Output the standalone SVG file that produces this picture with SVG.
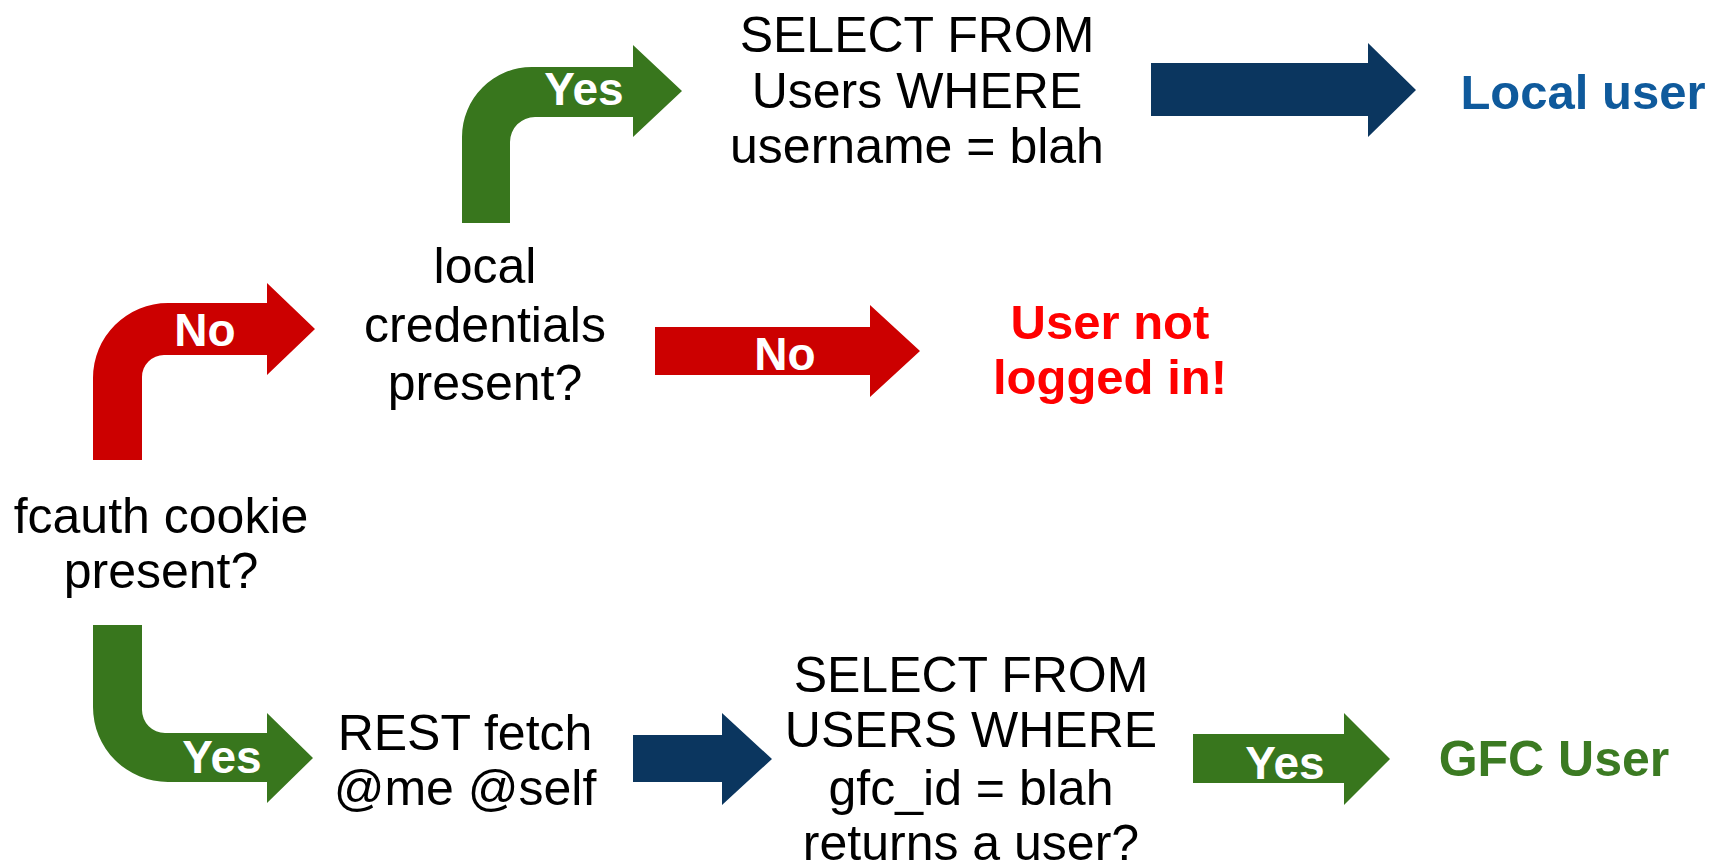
<svg xmlns="http://www.w3.org/2000/svg" width="1726" height="868" viewBox="0 0 1726 868">
<style>
.t{font-family:"Liberation Sans",Arial,sans-serif;font-size:50px;fill:#000;text-anchor:middle}
.w{font-family:"Liberation Sans",Arial,sans-serif;font-size:46px;font-weight:bold;fill:#fff;text-anchor:middle}
.b{font-family:"Liberation Sans",Arial,sans-serif;font-size:49px;font-weight:bold;text-anchor:middle}
.red{fill:#cc0000}.grn{fill:#38761d}.blu{fill:#0b365f}
</style>
<rect width="1726" height="868" fill="#fff"/>
<g id="connectors">
  <g id="arrow-no-1">
    <path class="red" d="M93,460 L93,378 A75,75 0 0 1 168,303 L267,303 L267,283 L315,329 L267,375 L267,355 L164,355 A22,22 0 0 0 142,377 L142,460 Z"/>
    <text class="w" x="205" y="346">No</text>
  </g>
  <g id="arrow-yes-1">
    <path class="grn" d="M462,223 L462,137 A70,70 0 0 1 532,67 L633,67 L633,45 L682,91 L633,137 L633,117 L535,117 A25,25 0 0 0 510,142 L510,223 Z"/>
    <text class="w" x="584" y="105">Yes</text>
  </g>
  <g id="arrow-yes-2">
    <path class="grn" d="M93,625 L142,625 L142,710 A23,23 0 0 0 165,733 L267,733 L267,713 L313,758 L267,803 L267,782 L168,782 A75,75 0 0 1 93,707 Z"/>
    <text class="w" x="222" y="773">Yes</text>
  </g>
  <g id="arrow-no-2">
    <path class="red" d="M655,327 L870,327 L870,305 L920,351 L870,397 L870,375 L655,375 Z"/>
    <text class="w" x="785" y="370">No</text>
  </g>
  <g id="arrow-local">
    <path class="blu" d="M1151,63 L1368,63 L1368,43 L1416,90 L1368,137 L1368,116 L1151,116 Z"/>
  </g>
  <g id="arrow-rest">
    <path class="blu" d="M633,735 L722,735 L722,713 L772,759 L722,805 L722,782 L633,782 Z"/>
  </g>
  <g id="arrow-yes-3">
    <path class="grn" d="M1193,734 L1344,734 L1344,713 L1390,759 L1344,805 L1344,783 L1193,783 Z"/>
    <text class="w" x="1285" y="779">Yes</text>
  </g>
</g>
<g id="node-fcauth">
  <text class="t" x="161" y="533">fcauth cookie</text>
  <text class="t" x="161" y="588">present?</text>
</g>
<g id="node-local-creds">
  <text class="t" x="485" y="283">local</text>
  <text class="t" x="485" y="342">credentials</text>
  <text class="t" x="485" y="400">present?</text>
</g>
<g id="node-select-users">
  <text class="t" x="917" y="52">SELECT FROM</text>
  <text class="t" x="917" y="108">Users WHERE</text>
  <text class="t" x="917" y="163">username = blah</text>
</g>
<g id="node-local-user">
  <text class="b" x="1583" y="109" fill="#0f5a9c">Local user</text>
</g>
<g id="node-not-logged">
  <text class="b" x="1110" y="339" fill="#ff0000">User not</text>
  <text class="b" x="1110" y="394" fill="#ff0000">logged in!</text>
</g>
<g id="node-rest">
  <text class="t" x="465" y="750">REST fetch</text>
  <text class="t" x="465" y="805">@me @self</text>
</g>
<g id="node-select-gfc">
  <text class="t" x="971" y="692">SELECT FROM</text>
  <text class="t" x="971" y="747">USERS WHERE</text>
  <text class="t" x="971" y="805">gfc_id = blah</text>
  <text class="t" x="971" y="860">returns a user?</text>
</g>
<g id="node-gfc-user">
  <text class="b" x="1554" y="776" fill="#3b7a22" style="font-size:50px">GFC User</text>
</g>
</svg>
